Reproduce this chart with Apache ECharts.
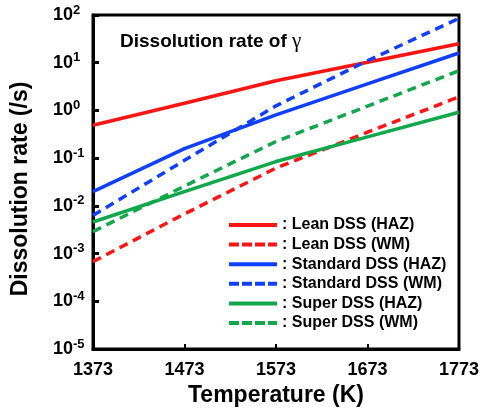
<!DOCTYPE html>
<html><head><meta charset="utf-8">
<script src="https://cdn.jsdelivr.net/npm/echarts@6/dist/echarts.min.js"></script>
<style>html,body{margin:0;padding:0;background:#fff}#c{width:482px;height:412px}</style>
</head><body><div id="c"></div>
<script>
const temps = [1373, 1473, 1573, 1673, 1773];
const leanHAZ = [0.49, 1.42, 4.2, 10.2, 25];
const leanWM = [0.00068, 0.0068, 0.062, 0.35, 1.92];
const stdHAZ = [0.020, 0.158, 0.81, 3.6, 16];
const stdWM = [0.0063, 0.09, 1.25, 11, 85];
const supHAZ = [0.0046, 0.020, 0.085, 0.28, 0.92];
const supWM = [0.0029, 0.026, 0.224, 1.23, 6.8];
const seriesNames = ['Lean DSS (HAZ)', 'Lean DSS (WM)', 'Standard DSS (HAZ)', 'Standard DSS (WM)', 'Super DSS (HAZ)', 'Super DSS (WM)'];
const xTicks = [1373, 1473, 1573, 1673, 1773];

const RED = '#ff1414', BLUE = '#1040ff', GREEN = '#10a84a';
const FONT = '"Liberation Sans", Arial, Helvetica, sans-serif';
const colors = [RED, RED, BLUE, BLUE, GREEN, GREEN];
const dashed = [false, true, false, true, false, true];
const datas = [leanHAZ, leanWM, stdHAZ, stdWM, supHAZ, supWM];
const SOLID_ICON = 'path://M0,0h48v4h-48z';
const DASH_ICON = 'path://M0,0h10v4h-10zM13,0h10v4h-10zM26,0h10v4h-10zM39,0h9v4h-9z';

const chart = echarts.init(document.getElementById('c'));
chart.setOption({
  animation: false,
  textStyle: { fontFamily: FONT },
  grid: { left: 93, right: 17, top: 15, bottom: 61, show: true, borderColor: '#000', borderWidth: 3 },
  legend: {
    orient: 'vertical', left: 224, top: 212, itemWidth: 48, itemHeight: 4, itemGap: 3.6,
    data: seriesNames.map((n, i) => ({ name: n, icon: dashed[i] ? DASH_ICON : SOLID_ICON })),
    formatter: n => ': ' + n,
    itemStyle: { borderWidth: 0 },
    lineStyle: { width: 0 },
    textStyle: { fontFamily: FONT, fontSize: 16, lineHeight: 16, fontWeight: 'bold', color: '#000' }
  },
  graphic: [{
    type: 'text', left: 120, top: 31,
    style: {
      text: '{a|Dissolution rate of }{g|γ}',
      rich: {
        a: { fontFamily: FONT, fontSize: 19, fontWeight: 'bold', fill: '#000' },
        g: { fontFamily: '"Liberation Serif", "DejaVu Serif", serif', fontSize: 21, fill: '#000' }
      }
    }
  }, {
    type: 'text', x: 21, y: 189, rotation: Math.PI / 2,
    style: {
      text: 'Dissolution rate (/s)', textAlign: 'center', textVerticalAlign: 'middle',
      fontFamily: FONT, fontSize: 23, fontWeight: 'bold', fill: '#000'
    }
  }],
  xAxis: {
    type: 'value', min: 1373, max: 1773, interval: 100,
    name: 'Temperature (K)', nameLocation: 'middle', nameGap: 34,
    nameTextStyle: { fontFamily: FONT, fontSize: 23, fontWeight: 'bold', color: '#000' },
    axisLine: { lineStyle: { color: '#000', width: 3 } },
    axisTick: { inside: true, length: 5, lineStyle: { width: 2, color: '#000' } },
    axisLabel: { fontFamily: FONT, fontSize: 18, fontWeight: 'bold', color: '#000', margin: 12,
      formatter: v => xTicks.includes(v) ? String(v) : '' },
    splitLine: { show: false }
  },
  yAxis: {
    type: 'log', logBase: 10, min: 1e-5, max: 100,
    axisLine: { lineStyle: { color: '#000', width: 3 } },
    axisTick: { inside: true, length: 6, lineStyle: { width: 3, color: '#000' } },
    minorTick: { show: false },
    axisLabel: {
      margin: 40, align: 'left', color: '#000',
      formatter: v => '{b|10}{s|' + Math.round(Math.log10(v)) + '}',
      rich: {
        b: { fontFamily: FONT, fontSize: 18, fontWeight: 'bold', color: '#000' },
        s: { fontFamily: FONT, fontSize: 13, fontWeight: 'bold', color: '#000', padding: [0, 0, 10, 0] }
      }
    },
    splitLine: { show: false }
  },
  series: seriesNames.map((n, i) => ({
    name: n, type: 'line', symbol: 'none', smooth: false,
    data: temps.map((t, j) => [t, datas[i][j]]),
    lineStyle: { color: colors[i], width: 3.5, type: dashed[i] ? [9, 6] : 'solid' },
    itemStyle: { color: colors[i] }
  }))
});
</script></body></html>
